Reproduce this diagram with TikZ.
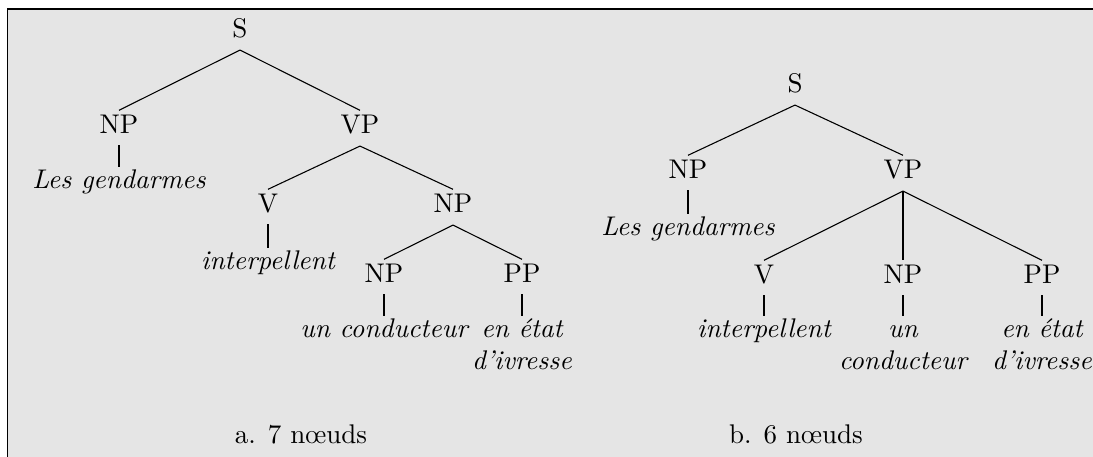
\documentclass[tikz,border=0pt]{standalone}
\usepackage{fontspec}
\definecolor{bgpanel}{gray}{0.898}
\begin{document}
\begin{tikzpicture}[x=0.37037pt,y=-0.37037pt,
  every node/.style={inner sep=0pt, font=\fontsize{10}{12}\selectfont},
  cat/.style={anchor=north},
  word/.style={anchor=north, align=center, font=\fontsize{10}{12}\selectfont\itshape},
  caption/.style={anchor=base},
  branch/.style={line width=0.4pt},
  unary/.style={line width=0.75pt},
]
\useasboundingbox (0,0) rectangle (1093,457);
\fill[bgpanel] (7.5,9) rectangle (1093,457);
\draw[line width=0.5pt] (7.5,457) -- (7.5,9) -- (1093,9);

% ---------- tree a ----------
\node[cat] (S1)  at (240,14.3)  {\strut S};
\node[cat] (NP1) at (119,110.3) {\strut NP};
\node[cat] (VP1) at (360,110.3) {\strut VP};
\node[word] (LG1) at (119,165.3) {\strut Les gendarmes};
\node[cat] (V1)  at (268,189.3) {\strut V};
\node[cat] (NP2) at (453,189.3) {\strut NP};
\node[word] (IN1) at (268,246.3) {\strut interpellent};
\node[cat] (NP3) at (384,259.3) {\strut NP};
\node[cat] (PP1) at (522,259.3) {\strut PP};
\node[word] (UC1) at (384,314.3) {\strut un conducteur};
\node[word] (EE1) at (522,314.3) {\strut en état\\d'ivresse};
\node[caption] (capA) at (301,443) {a. 7 nœuds};

\draw[branch] ([yshift=-0.85pt]S1.south) -- (NP1.north);
\draw[branch] ([yshift=-0.85pt]S1.south) -- (VP1.north);
\draw[unary] ([yshift=-0.5pt]NP1.south) -- ([yshift=-0.6pt]LG1.north);
\draw[branch] ([yshift=-0.85pt]VP1.south) -- (V1.north);
\draw[branch] ([yshift=-0.85pt]VP1.south) -- (NP2.north);
\draw[unary] ([yshift=-0.5pt]V1.south) -- ([yshift=-0.6pt]IN1.north);
\draw[branch] ([yshift=-0.85pt]NP2.south) -- (NP3.north);
\draw[branch] ([yshift=-0.85pt]NP2.south) -- (PP1.north);
\draw[unary] ([yshift=-0.5pt]NP3.south) -- ([yshift=-0.6pt]UC1.north);
\draw[unary] ([yshift=-0.5pt]PP1.south) -- ([yshift=-0.6pt]EE1.north);

% ---------- tree b ----------
\node[cat] (S2)  at (795,69.3)  {\strut S};
\node[cat] (NP4) at (688,155.3) {\strut NP};
\node[cat] (VP2) at (903,155.3) {\strut VP};
\node[word] (LG2) at (688,212.3) {\strut Les gendarmes};
\node[cat] (V2)  at (764,260.3) {\strut V};
\node[cat] (NP5) at (903,260.3) {\strut NP};
\node[cat] (PP2) at (1042,260.3) {\strut PP};
\node[word] (IN2) at (764,314.3) {\strut interpellent};
\node[word] (UC2) at (903,314.3) {\strut un\\conducteur};
\node[word] (EE2) at (1042,314.3) {\strut en état\\d'ivresse};
\node[caption] (capB) at (796,443) {b. 6 nœuds};

\draw[branch] ([yshift=-0.85pt]S2.south) -- (NP4.north);
\draw[branch] ([yshift=-0.85pt]S2.south) -- (VP2.north);
\draw[unary] ([yshift=-0.5pt]NP4.south) -- ([yshift=-0.6pt]LG2.north);
\draw[branch] ([yshift=-0.85pt]VP2.south) -- (V2.north);
\draw[unary] ([yshift=-0.85pt]VP2.south) -- (NP5.north);
\draw[branch] ([yshift=-0.85pt]VP2.south) -- (PP2.north);
\draw[unary] ([yshift=-0.5pt]V2.south) -- ([yshift=-0.6pt]IN2.north);
\draw[unary] ([yshift=-0.5pt]NP5.south) -- ([yshift=-0.6pt]UC2.north);
\draw[unary] ([yshift=-0.5pt]PP2.south) -- ([yshift=-0.6pt]EE2.north);
\end{tikzpicture}
\end{document}
